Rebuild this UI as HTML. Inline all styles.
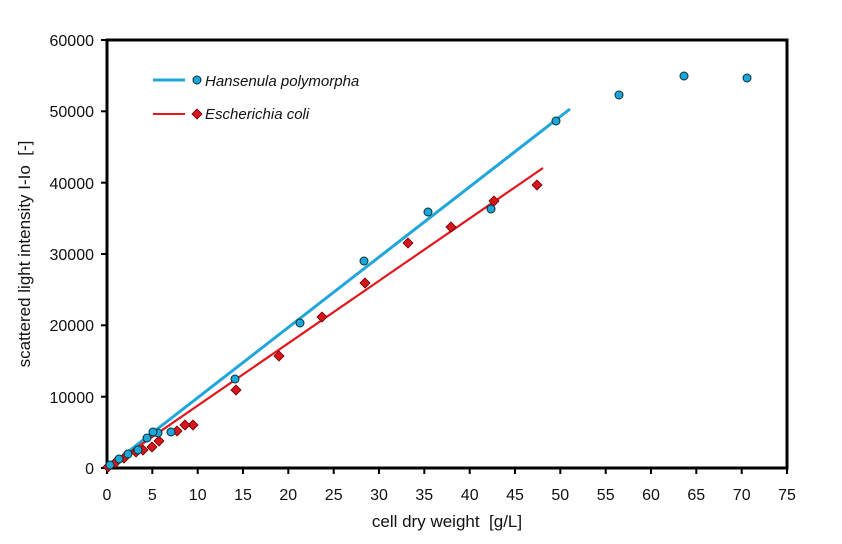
<!DOCTYPE html>
<html><head><style>body{margin:0;background:#fff}svg{display:block}text{font-family:"Liberation Sans",sans-serif}</style></head><body>
<svg width="842" height="544" xmlns="http://www.w3.org/2000/svg">
<rect width="842" height="544" fill="#fff"/>
<rect x="107" y="40" width="680" height="428" fill="none" stroke="#000" stroke-width="3"/>
<g stroke="#000" stroke-width="2">
<line x1="101" y1="40" x2="107" y2="40"/><line x1="101" y1="111.3" x2="107" y2="111.3"/><line x1="101" y1="182.7" x2="107" y2="182.7"/><line x1="101" y1="254" x2="107" y2="254"/><line x1="101" y1="325.3" x2="107" y2="325.3"/><line x1="101" y1="396.7" x2="107" y2="396.7"/><line x1="101" y1="468" x2="107" y2="468"/>
</g>
<g font-size="16" text-anchor="end" fill="#111">
<text x="94" y="46">60000</text><text x="94" y="117">50000</text><text x="94" y="189">40000</text><text x="94" y="260">30000</text><text x="94" y="331">20000</text><text x="94" y="403">10000</text><text x="94" y="474">0</text>
</g>
<g font-size="16" text-anchor="middle" fill="#111">
<text x="107" y="500">0</text><text x="152.3" y="500">5</text><text x="197.7" y="500">10</text><text x="243" y="500">15</text><text x="288.3" y="500">20</text><text x="333.7" y="500">25</text><text x="379" y="500">30</text><text x="424.3" y="500">35</text><text x="469.7" y="500">40</text><text x="515" y="500">45</text><text x="560.3" y="500">50</text><text x="605.7" y="500">55</text><text x="651" y="500">60</text><text x="696.3" y="500">65</text><text x="741.7" y="500">70</text><text x="787" y="500">75</text>
<text x="447" y="527" font-size="17">cell dry weight &#160;[g/L]</text>
<text transform="translate(30,254) rotate(-90)" font-size="17">scattered light intensity I-Io &#160;[-]</text>
</g>
<g stroke="#000" stroke-width="2">
<line x1="152.3" y1="468" x2="152.3" y2="474"/><line x1="197.7" y1="468" x2="197.7" y2="474"/><line x1="243" y1="468" x2="243" y2="474"/><line x1="288.3" y1="468" x2="288.3" y2="474"/><line x1="333.7" y1="468" x2="333.7" y2="474"/><line x1="379" y1="468" x2="379" y2="474"/><line x1="424.3" y1="468" x2="424.3" y2="474"/><line x1="469.7" y1="468" x2="469.7" y2="474"/><line x1="515" y1="468" x2="515" y2="474"/><line x1="560.3" y1="468" x2="560.3" y2="474"/><line x1="605.7" y1="468" x2="605.7" y2="474"/><line x1="651" y1="468" x2="651" y2="474"/><line x1="696.3" y1="468" x2="696.3" y2="474"/><line x1="741.7" y1="468" x2="741.7" y2="474"/><line x1="787" y1="468" x2="787" y2="474"/><line x1="107" y1="468" x2="107" y2="474"/>
</g>
<line x1="107" y1="468" x2="570" y2="109" stroke="#21a6dc" stroke-width="3"/>
<line x1="107" y1="468" x2="543" y2="168" stroke="#e0181e" stroke-width="2.2"/>
<g fill="#d7151b" stroke="#600" stroke-width="0.8">
<path d="M537 180l5 5-5 5-5-5z"/><path d="M494 196l5 5-5 5-5-5z"/><path d="M451 222l5 5-5 5-5-5z"/><path d="M408 238l5 5-5 5-5-5z"/><path d="M365 278l5 5-5 5-5-5z"/><path d="M322 312l5 5-5 5-5-5z"/><path d="M279 351l5 5-5 5-5-5z"/><path d="M236 385l5 5-5 5-5-5z"/><path d="M193 420l5 5-5 5-5-5z"/><path d="M185 420l5 5-5 5-5-5z"/><path d="M177 426l5 5-5 5-5-5z"/><path d="M159 436l5 5-5 5-5-5z"/><path d="M152 442l5 5-5 5-5-5z"/><path d="M143 445l5 5-5 5-5-5z"/><path d="M136 447l5 5-5 5-5-5z"/><path d="M124 453l5 5-5 5-5-5z"/><path d="M115 458l5 5-5 5-5-5z"/><path d="M108 462l5 5-5 5-5-5z"/>
</g>
<g fill="#1ea5d9" stroke="#033" stroke-width="1">
<circle cx="747" cy="78" r="4"/><circle cx="684" cy="76" r="4"/><circle cx="619" cy="95" r="4"/><circle cx="556" cy="121" r="4"/><circle cx="491" cy="209" r="4"/><circle cx="428" cy="212" r="4"/><circle cx="364" cy="261" r="4"/><circle cx="300" cy="323" r="4"/><circle cx="235" cy="379" r="4"/><circle cx="171" cy="432" r="4"/><circle cx="158" cy="433" r="4"/><circle cx="153" cy="432" r="4"/><circle cx="147" cy="438" r="4"/><circle cx="138" cy="450" r="4"/><circle cx="128" cy="454" r="4"/><circle cx="119" cy="459" r="4"/><circle cx="110" cy="465" r="4"/>
</g>
<line x1="153" y1="80" x2="185" y2="80" stroke="#21a6dc" stroke-width="3"/>
<circle cx="197" cy="80" r="4" fill="#1ea5d9" stroke="#033"/>
<line x1="153" y1="114" x2="185" y2="114" stroke="#e0181e" stroke-width="2"/>
<path d="M197 109l5 5-5 5-5-5z" fill="#d7151b" stroke="#600" stroke-width="0.8"/>
<g font-size="15" font-style="italic" fill="#111">
<text x="205" y="86">Hansenula polymorpha</text>
<text x="205" y="119">Escherichia coli</text>
</g>
</svg>
</body></html>
